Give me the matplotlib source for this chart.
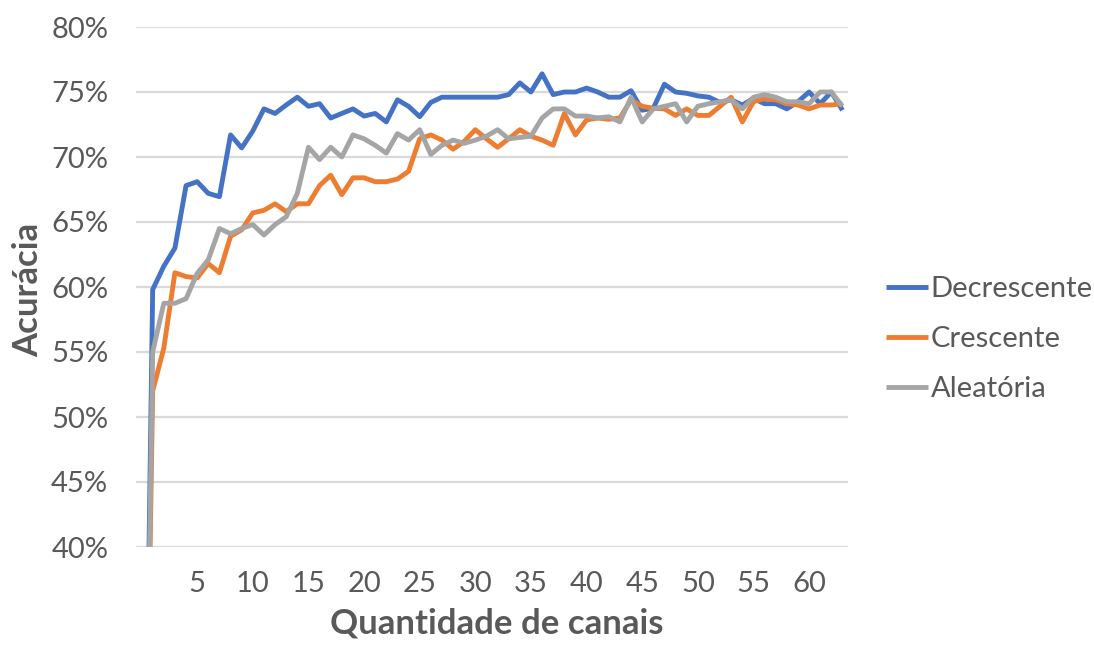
import matplotlib
matplotlib.use("Agg")
import matplotlib.pyplot as plt
from matplotlib.ticker import FuncFormatter

# Number of channels (category index 0..63)
canais = list(range(64))

decrescente = [0.0, 59.8, 61.6, 63.0, 67.8, 68.1, 67.2, 66.95, 71.7, 70.7,
               72.0, 73.7, 73.35, 74.0, 74.6, 73.9, 74.1, 73.0, 73.35, 73.7,
               73.15, 73.35, 72.7, 74.4, 73.9, 73.1, 74.2, 74.6, 74.6, 74.6,
               74.6, 74.6, 74.6, 74.8, 75.7, 75.0, 76.4, 74.8, 75.0, 75.0,
               75.3, 75.0, 74.6, 74.6, 75.1, 73.6, 73.75, 75.6, 75.0, 74.9,
               74.7, 74.6, 74.2, 74.4, 74.0, 74.5, 74.1, 74.1, 73.7, 74.25,
               75.0, 74.1, 75.0, 73.6]

crescente = [0.0, 52.0, 55.3, 61.1, 60.8, 60.7, 61.8, 61.1, 63.9, 64.4,
             65.7, 65.9, 66.4, 65.8, 66.4, 66.4, 67.8, 68.6, 67.1, 68.4,
             68.4, 68.1, 68.1, 68.3, 68.9, 71.4, 71.7, 71.3, 70.6, 71.2,
             72.1, 71.4, 70.75, 71.4, 72.1, 71.6, 71.3, 70.9, 73.35, 71.7,
             72.85, 73.0, 72.9, 73.0, 74.4, 73.9, 73.75, 73.7, 73.2, 73.7,
             73.2, 73.2, 73.9, 74.6, 72.7, 74.25, 74.5, 74.4, 74.1, 74.0,
             73.7, 74.0, 74.0, 74.1]

aleatoria = [0.0, 55.0, 58.75, 58.75, 59.1, 61.05, 62.1, 64.5, 64.1, 64.5,
             64.8, 64.0, 64.8, 65.4, 67.2, 70.75, 69.8, 70.75, 70.0, 71.7,
             71.4, 70.9, 70.3, 71.8, 71.3, 72.1, 70.2, 70.9, 71.3, 71.05,
             71.3, 71.6, 72.1, 71.4, 71.5, 71.6, 73.0, 73.7, 73.7, 73.15,
             73.15, 73.0, 73.1, 72.7, 74.6, 72.7, 73.7, 73.9, 74.1, 72.7,
             73.9, 74.1, 74.25, 74.4, 73.7, 74.6, 74.8, 74.6, 74.25, 74.25,
             74.1, 75.0, 75.0, 73.9]

series_names = ["Decrescente", "Crescente", "Aleatória"]
series_colors = ["#4472C4", "#ED7D31", "#A5A5A5"]

x_ticks = [5, 10, 15, 20, 25, 30, 35, 40, 45, 50, 55, 60]
y_ticks = [40, 45, 50, 55, 60, 65, 70, 75, 80]

plt.rcParams["font.family"] = ["Lato", "DejaVu Sans"]

fig = plt.figure(figsize=(10.94, 6.48), dpi=100)
ax = fig.add_axes([136 / 1094, 1 - 547 / 648, 712 / 1094, 520 / 648])

for name, vals, col in zip(series_names,
                           [decrescente, crescente, aleatoria],
                           series_colors):
    ax.plot(canais, vals, color=col, lw=3.5, label=name,
            solid_joinstyle="round", solid_capstyle="butt")

ax.set_xlim(-0.5, 63.5)
ax.set_ylim(40, 80)
ax.set_xticks(x_ticks)
ax.set_yticks(y_ticks)
ax.yaxis.set_major_formatter(FuncFormatter(lambda v, p: f"{v:.0f}%"))
ax.grid(axis="y", color="#D9D9D9", lw=1.6)
ax.set_axisbelow(True)
for s in ax.spines.values():
    s.set_visible(False)
ax.tick_params(axis="both", length=0, labelsize=21, labelcolor="#595959")
ax.tick_params(axis="x", pad=17)
ax.tick_params(axis="y", pad=20)

fig.text(28 / 1094, 1 - 290 / 648, "Acurácia", rotation=90, ha="center",
         va="center", fontsize=25, fontweight="bold", color="#595959")
fig.text(497 / 1094, 1 - 623 / 648, "Quantidade de canais", ha="center",
         va="center", fontsize=25, fontweight="bold", color="#595959")

leg = fig.legend(loc="center left", bbox_to_anchor=(886 / 1094, 1 - 339 / 648),
                 frameon=False, fontsize=21, handlelength=1.45,
                 handletextpad=0.08, labelspacing=0.82, borderpad=0,
                 borderaxespad=0)
for t in leg.get_texts():
    t.set_color("#595959")

fig.savefig("out.png", dpi=100)
